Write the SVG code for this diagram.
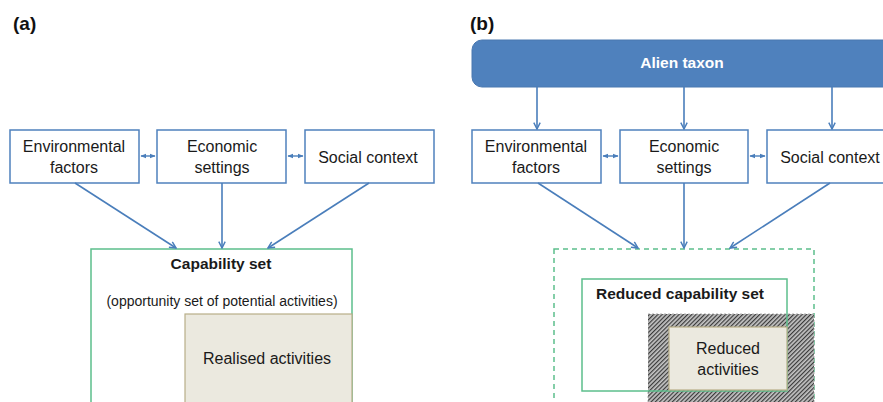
<svg xmlns="http://www.w3.org/2000/svg" width="883" height="402" viewBox="0 0 883 402">
<style>
.box{fill:#fff;stroke:#4f81bd;stroke-width:1.5}
.t{font-family:"Liberation Sans",Arial,sans-serif;font-size:16px;fill:#1a1a1a;text-anchor:middle}
.b{font-weight:bold}
.lbl{font-family:"Liberation Sans",Arial,sans-serif;font-size:19px;font-weight:bold;fill:#111}
.con{stroke:#4a7ebb;stroke-width:1.6;fill:none;marker-end:url(#ah)}
.dbl{stroke:#4a7ebb;stroke-width:1.4;fill:none;marker-end:url(#sh);marker-start:url(#shs)}
.green{fill:#fff;stroke:#5cbf8c;stroke-width:1.5}
.act{fill:#ebe9df;stroke:#b8ae88;stroke-width:1.2}
</style>
<defs>
<marker id="ah" viewBox="0 0 10 10" refX="9" refY="5" markerWidth="8" markerHeight="8" markerUnits="userSpaceOnUse" orient="auto">
<path d="M1,1 L9,5 L1,9" fill="none" stroke="#4a7ebb" stroke-width="1.8"/>
</marker>
<marker id="sh" viewBox="0 0 10 10" refX="9" refY="5" markerWidth="6" markerHeight="6" markerUnits="userSpaceOnUse" orient="auto">
<path d="M0,1 L10,5 L0,9 Z" fill="#4a7ebb"/>
</marker>
<marker id="shs" viewBox="0 0 10 10" refX="1" refY="5" markerWidth="6" markerHeight="6" markerUnits="userSpaceOnUse" orient="auto">
<path d="M10,1 L0,5 L10,9 Z" fill="#4a7ebb"/>
</marker>
<pattern id="hatch" width="3" height="3" patternUnits="userSpaceOnUse" patternTransform="rotate(45)">
<rect width="3" height="3" fill="#c4c4c4"/>
<rect width="1.2" height="3" fill="#3a3a3a"/>
</pattern>
</defs>
<rect width="883" height="402" fill="#fff"/>

<text class="lbl" x="13" y="30">(a)</text>
<text class="lbl" x="470" y="30">(b)</text>

<!-- Panel a -->
<g id="a-capability">
<rect class="green" x="91" y="249" width="261" height="170"/>
<text class="t b" x="221" y="269" style="font-size:15.5px">Capability set</text>
<text class="t" x="222" y="306" style="font-size:14px">(opportunity set of potential activities)</text>
</g>
<g id="a-realised">
<rect class="act" x="185" y="314" width="167" height="100"/>
<text class="t" x="267" y="364">Realised activities</text>
</g>
<g id="a-env">
<rect class="box" x="10" y="130" width="129" height="53"/>
<text class="t" x="74" y="152">Environmental</text>
<text class="t" x="74" y="173">factors</text>
</g>
<g id="a-econ">
<rect class="box" x="157" y="130" width="129" height="53"/>
<text class="t" x="222" y="152">Economic</text>
<text class="t" x="222" y="173">settings</text>
</g>
<g id="a-social">
<rect class="box" x="305" y="130" width="129" height="53"/>
<text class="t" x="368" y="163">Social context</text>
</g>

<!-- Panel b -->
<g id="b-alien">
<rect x="472" y="40" width="430" height="47" rx="10" fill="#4f81bd" stroke="#4a78b0" stroke-width="1"/>
<text class="t b" x="682" y="68" style="font-size:15.5px;fill:#fff">Alien taxon</text>
</g>
<g id="b-outer">
<rect x="554" y="249" width="260" height="170" fill="none" stroke="#5cbf8c" stroke-width="1.5" stroke-dasharray="5,4"/>
</g>
<g id="b-hatch">
<rect x="648" y="314" width="166" height="100" fill="url(#hatch)" stroke="#999" stroke-width="0.8" stroke-dasharray="2,2"/>
</g>
<g id="b-reduced-cap">
<rect x="582" y="279" width="205" height="112" fill="none" stroke="#5cbf8c" stroke-width="1.5"/>
<path d="M583,280 H786 V313 H648 V390 H583 Z" fill="#fff"/>
<text class="t b" x="680" y="299" style="font-size:15.5px">Reduced capability set</text>
</g>
<g id="b-reduced-act">
<rect class="act" x="669" y="327" width="118" height="63"/>
<text class="t" x="728" y="354">Reduced</text>
<text class="t" x="728" y="375">activities</text>
</g>
<g id="b-env">
<rect class="box" x="472" y="130" width="129" height="53"/>
<text class="t" x="536" y="152">Environmental</text>
<text class="t" x="536" y="173">factors</text>
</g>
<g id="b-econ">
<rect class="box" x="620" y="130" width="128" height="53"/>
<text class="t" x="684" y="152">Economic</text>
<text class="t" x="684" y="173">settings</text>
</g>
<g id="b-social">
<rect class="box" x="767" y="130" width="129" height="53"/>
<text class="t" x="830" y="163">Social context</text>
</g>

<g id="connectors">
<line class="dbl" x1="141" y1="156" x2="155" y2="156"/>
<line class="dbl" x1="288" y1="156" x2="303" y2="156"/>
<line class="con" x1="75" y1="183" x2="176" y2="248"/>
<line class="con" x1="222" y1="183" x2="222" y2="248"/>
<line class="con" x1="369" y1="183" x2="268" y2="248"/>

<line class="con" x1="537" y1="87" x2="537" y2="129"/>
<line class="con" x1="684" y1="87" x2="684" y2="129"/>
<line class="con" x1="832" y1="87" x2="832" y2="129"/>
<line class="dbl" x1="603" y1="156" x2="618" y2="156"/>
<line class="dbl" x1="750" y1="156" x2="765" y2="156"/>
<line class="con" x1="538" y1="183" x2="638" y2="248"/>
<line class="con" x1="684" y1="183" x2="684" y2="248"/>
<line class="con" x1="830" y1="183" x2="730" y2="248"/>
</g>
</svg>
